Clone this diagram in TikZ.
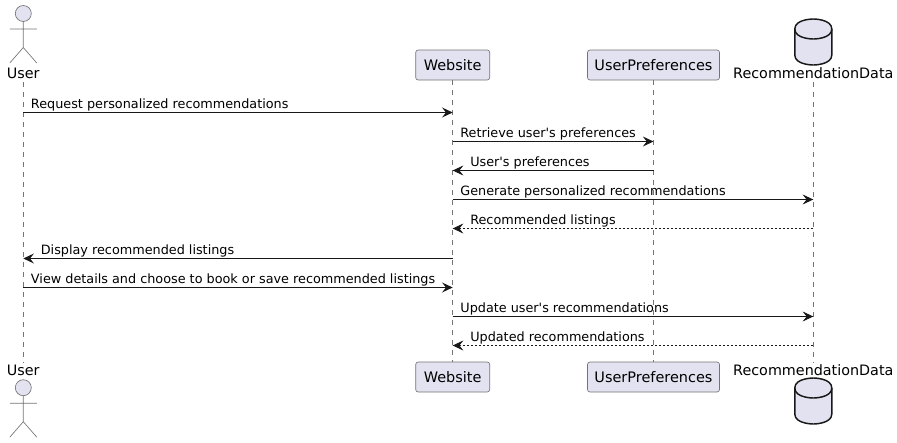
\documentclass[tikz,border=0pt]{standalone}
\usepackage{fontspec}
\setmainfont{DejaVu Sans}
\usepackage{xcolor}
\usetikzlibrary{
    arrows.meta
}
\definecolor{partfill}{HTML}{E2E2F0}
\definecolor{partline}{HTML}{181818}
\colorlet{thinline}{partline!60}
\tikzset{
    partbox/.style={
        rectangle,
        rounded corners=1.9pt,
        draw=thinline,
        line width=.5pt,
        fill=partfill,
        inner sep=0pt,
        minimum height=22.5pt,
        font=\fontsize{10.85}{12}\selectfont
    },
    partname/.style={
        inner sep=0pt,
        anchor=base,
        text height=8.6pt,
        text depth=3pt,
        font=\fontsize{10.75}{12}\selectfont
    },
    lifeline/.style={
        draw=thinline,
        line width=.5pt,
        dash pattern=on 3.75pt off 3.75pt
    },
    msg/.style={
        -{Stealth[length=8pt,width=7.5pt,inset=3pt]},
        draw=partline,
        line width=.75pt
    },
    reply/.style={
        msg,
        dash pattern=on 1.5pt off 1.5pt
    },
    msgtext/.style={
        inner sep=0pt,
        anchor=base west,
        xshift=5.4pt,
        yshift=3.2pt,
        font=\fontsize{9.6}{11}\selectfont
    },
    backtext/.style={
        msgtext,
        xshift=7.4pt
    },
    actor/.pic={
        \draw[draw=thinline, line width=.5pt, fill=partfill] (0,0) circle (8);
        \draw[draw=thinline, line width=.5pt] (0,8) -- (0,34) (-13.5,15.5) -- (13.5,15.5)
            (-13.5,49.5) -- (0,34) -- (13.5,49.5);
    },
    database/.pic={
        \draw[draw=partline, line width=1.1pt, fill=partfill] (-18.5,10)
            .. controls (-18.5,0) and (0,0) .. (0,0)
            .. controls (0,0) and (18.5,0) .. (18.5,10) -- (18.5,36)
            .. controls (18.5,46) and (0,46) .. (0,46)
            .. controls (0,46) and (-18.5,46) .. (-18.5,36) -- cycle;
        \draw[draw=partline, line width=1.1pt] (-18.5,10)
            .. controls (-18.5,20) and (0,20) .. (0,20)
            .. controls (0,20) and (18.5,20) .. (18.5,10);
    }
}

\begin{document}
\begin{tikzpicture}[x=.75pt, y=-.75pt]
\useasboundingbox (0,0) rectangle (897,443);

% participants, top row
\pic at (23.3,13.5) {actor};
\pic at (813.3,19) {database};
\node[partname] (user) at (23.3,78) {User};
\node[partbox, minimum width=55.5pt] (website) at (452.7,65) {Website};
\node[partbox, minimum width=99pt] (prefs) at (653.5,65) {UserPreferences};
\node[partname] (recdata) at (813.3,78) {RecommendationData\hspace{2.4pt}};

% participants, bottom row
\pic at (23.3,387.7) {actor};
\pic at (813.3,378) {database};
\node[partname] (userend) at (23.3,375) {User};
\node[partbox, minimum width=55.5pt] (websiteend) at (452.7,377) {Website};
\node[partbox, minimum width=99pt] (prefsend) at (653.5,377) {UserPreferences};
\node[partname] (recdataend) at (813.3,375) {RecommendationData\hspace{2.4pt}};

\draw[lifeline] (user.south) -- (userend.north);
\draw[lifeline] (website.south) -- (websiteend.north);
\draw[lifeline] (prefs.south) -- (prefsend.north);
\draw[lifeline] (recdata.south) -- (recdataend.north);

% message rows
\coordinate (r1) at (0,112.5);
\coordinate (r2) at (0,141.5);
\coordinate (r3) at (0,170.5);
\coordinate (r4) at (0,199.5);
\coordinate (r5) at (0,228.5);
\coordinate (r6) at (0,258.5);
\coordinate (r7) at (0,287.5);
\coordinate (r8) at (0,316.5);
\coordinate (r9) at (0,345.5);

\draw[msg] (user |- r1) -- node[msgtext, pos=0] {Request personalized recommendations} (website |- r1);
\draw[msg] (website |- r2) -- node[msgtext, pos=0] {Retrieve user\textquotesingle s preferences} (prefs |- r2);
\draw[msg] (prefs |- r3) -- node[backtext, pos=1] {User\textquotesingle s preferences} (website |- r3);
\draw[msg] (website |- r4) -- node[msgtext, pos=0] {Generate personalized recommendations} (recdata |- r4);
\draw[reply] (recdata |- r5) -- node[backtext, pos=1] {Recommended listings} (website |- r5);
\draw[msg] (website |- r6) -- node[backtext, pos=1] {Display recommended listings} (user |- r6);
\draw[msg] (user |- r7) -- node[msgtext, pos=0] {View details and choose to book or save recommended listings} (website |- r7);
\draw[msg] (website |- r8) -- node[msgtext, pos=0] {Update user\textquotesingle s recommendations} (recdata |- r8);
\draw[reply] (recdata |- r9) -- node[backtext, pos=1] {Updated recommendations} (website |- r9);

\end{tikzpicture}
\end{document}
